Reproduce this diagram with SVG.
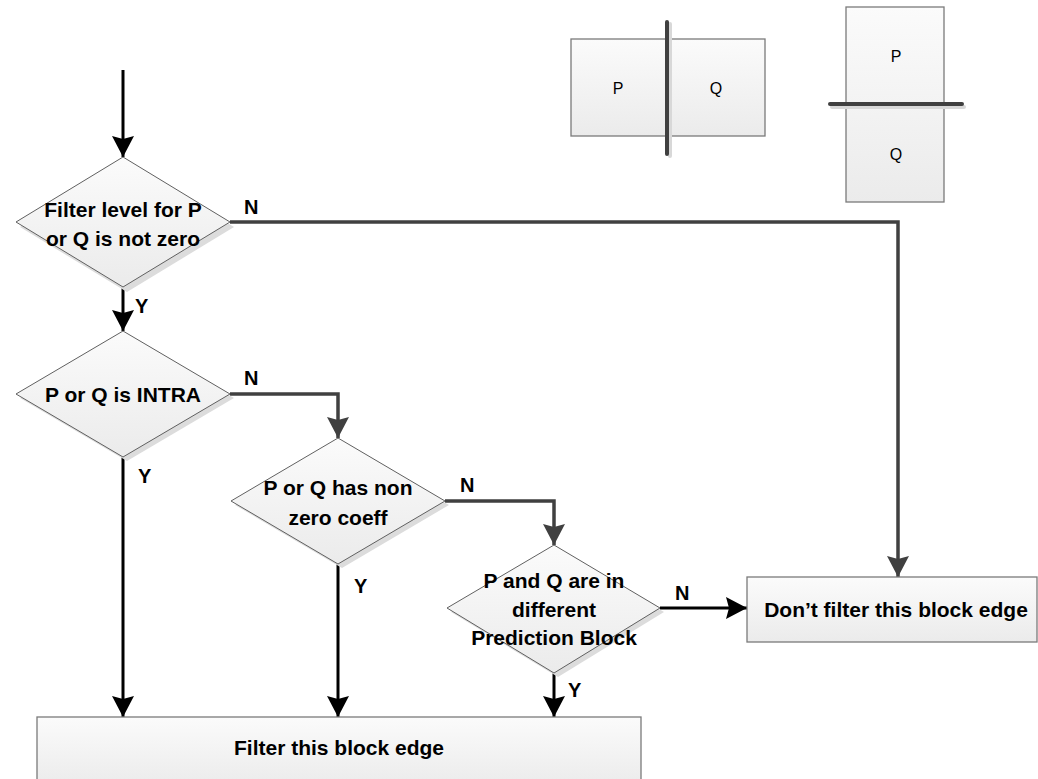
<svg xmlns="http://www.w3.org/2000/svg" width="1038" height="779" viewBox="0 0 1038 779">
<defs>
<linearGradient id="fillG" x1="0" y1="0" x2="0" y2="1">
<stop offset="0" stop-color="#fbfbfb"/>
<stop offset="1" stop-color="#ebebeb"/>
</linearGradient>
<marker id="ahB" markerUnits="userSpaceOnUse" viewBox="0 0 22 22" markerWidth="22" markerHeight="22" refX="21" refY="11" orient="auto">
<path d="M0,0 L21,11 L0,22 L3,11 z" fill="#000"/>
</marker>
<marker id="ahG" markerUnits="userSpaceOnUse" viewBox="0 0 22 22" markerWidth="22" markerHeight="22" refX="21" refY="11" orient="auto">
<path d="M0,0 L21,11 L0,22 L3,11 z" fill="#404040"/>
</marker>
</defs>
<style>
.dia{fill:url(#fillG);stroke:#606060;stroke-width:1}
.shd{fill:#dcdcdc}
.box{fill:url(#fillG);stroke:#7a7a7a;stroke-width:1.3}
.t{font-family:"Liberation Sans",Arial,sans-serif;font-weight:bold;font-size:21px;fill:#000;text-anchor:middle}
.lbl{font-family:"Liberation Sans",Arial,sans-serif;font-weight:bold;font-size:20px;fill:#000}
.pq{font-family:"Liberation Sans",Arial,sans-serif;font-size:16px;fill:#000;text-anchor:middle}
.cb{fill:none;stroke:#000;stroke-width:3;marker-end:url(#ahB)}
.cg{fill:none;stroke:#404040;stroke-width:3.5;marker-end:url(#ahG)}
.edge{stroke:#404040;stroke-width:4;stroke-linecap:round}
.edgeS{stroke:#d8d8d8;stroke-width:4;stroke-linecap:round}
</style>

<g id="legend-vertical">
<rect class="box" x="571" y="39" width="194" height="97"/>
<line class="edgeS" x1="670" y1="24" x2="670" y2="156"/>
<line class="edge" x1="667" y1="22" x2="667" y2="154"/>
<text class="pq" x="618" y="94">P</text>
<text class="pq" x="716" y="94">Q</text>
</g>
<g id="legend-horizontal">
<rect class="box" x="846" y="7" width="98" height="195"/>
<line class="edgeS" x1="832" y1="107" x2="964" y2="107"/>
<line class="edge" x1="830" y1="104" x2="962" y2="104"/>
<text class="pq" x="896" y="62">P</text>
<text class="pq" x="896" y="160">Q</text>
</g>

<g id="connectors">
<path class="cb" d="M123,70 L123,157"/>
<path class="cg" d="M230,222 L898,222 L898,577"/>
<path class="cb" d="M123,287 L123,331"/>
<path class="cg" d="M230,394 L338,394 L338,438"/>
<path class="cb" d="M123,457 L123,717"/>
<path class="cg" d="M445,501 L554,501 L554,545"/>
<path class="cb" d="M338,564 L338,717"/>
<path class="cb" d="M660,608 L747,608"/>
<path class="cb" d="M554,673 L554,717"/>
<text class="lbl" x="244" y="214">N</text>
<text class="lbl" x="135" y="313">Y</text>
<text class="lbl" x="244" y="385">N</text>
<text class="lbl" x="138" y="483">Y</text>
<text class="lbl" x="460" y="492">N</text>
<text class="lbl" x="354" y="593">Y</text>
<text class="lbl" x="675" y="600">N</text>
<text class="lbl" x="568" y="697">Y</text>
</g>

<g id="d1">
<polygon class="shd" points="127,162 234,227 127,292 20,227"/>
<polygon class="dia" points="123,157 230,222 123,287 16,222"/>
<text class="t" x="123" y="217">Filter level for P</text>
<text class="t" x="123" y="246">or Q is not zero</text>
</g>
<g id="d2">
<polygon class="shd" points="127,335 234,398 127,461 20,398"/>
<polygon class="dia" points="123,331 230,394 123,457 16,394"/>
<text class="t" x="123" y="402">P or Q is INTRA</text>
</g>
<g id="d3">
<polygon class="shd" points="342,442 449,505 342,568 235,505"/>
<polygon class="dia" points="338,438 445,501 338,564 231,501"/>
<text class="t" x="338" y="495">P or Q has non</text>
<text class="t" x="338" y="525">zero coeff</text>
</g>
<g id="d4">
<polygon class="shd" points="558,549 664,612 558,677 451,612"/>
<polygon class="dia" points="554,545 660,608 554,673 447,608"/>
<text class="t" x="554" y="588">P and Q are in</text>
<text class="t" x="554" y="617">different</text>
<text class="t" x="554" y="645">Prediction Block</text>
</g>
<g id="nofilter">
<rect class="box" x="747" y="577" width="290" height="65"/>
<text class="t" x="896" y="617">Don’t filter this block edge</text>
</g>
<g id="filter">
<rect class="box" x="37" y="717" width="604" height="70"/>
<text class="t" x="339" y="755">Filter this block edge</text>
</g>
</svg>
